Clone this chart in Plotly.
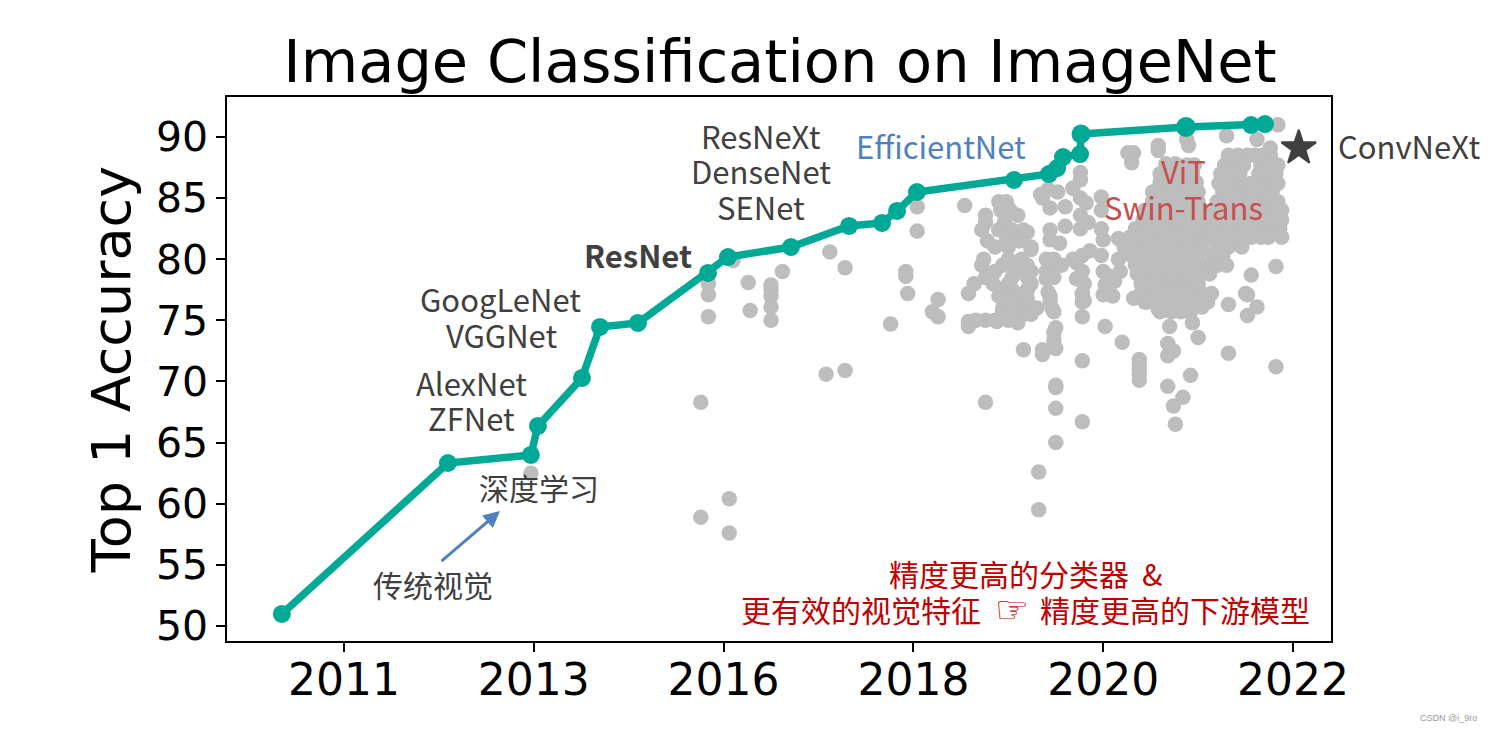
import plotly.graph_objects as go

years = ["2011", "2013", "2016", "2018", "2020", "2022"]
tick_pos = [0, 1, 2, 3, 4, 5]
acc_ticks = [50, 55, 60, 65, 70, 75, 80, 85, 90]

best_pos = [-0.327, 0.548, 0.985, 1.022, 1.254, 1.349, 1.549, 1.918, 2.023, 2.355, 2.661, 2.835, 2.914, 3.019, 3.53, 3.714, 3.757, 3.788, 3.878, 3.883, 4.436, 4.779, 4.852]
best_acc = [50.98, 63.33, 63.99, 66.36, 70.29, 74.46, 74.79, 78.88, 80.18, 81.0, 82.72, 82.97, 83.95, 85.5, 86.48, 86.97, 87.46, 88.36, 88.6, 90.25, 90.82, 90.98, 91.06]
best_size = [18, 18, 18, 18, 18, 18, 18, 18, 18, 18, 18, 18, 18, 18, 18, 18, 18, 18, 18, 19, 20, 18, 18]

sparse_pos = [3.13,3.29,3.10,3.13,3.29,3.29,3.38,3.44,3.47,3.51,3.55,3.50,3.56,3.60,3.60,3.74,3.75,3.74,3.74,3.75,3.58,3.68,3.68,3.89,3.75,3.75,3.38,3.75,3.89,3.75,3.66,3.66,4.01,4.10,4.34,4.37,4.34,4.46,4.34,4.42,4.37,4.38,4.50,4.66,4.91,4.66,4.76,4.81,4.76,4.35,4.47,3.89,3.89,3.89,4.0,4.16,4.23,4.29,4.34,4.55,4.52,
              4.19,4.19,4.19,4.19,4.19,
              0.985,1.88,1.88,2.03,2.03,1.92,1.92,1.92,2.05,2.13,2.14,2.25,2.25,2.25,2.25,2.25,2.31,2.56,2.64,2.54,2.64,2.88,2.96,2.96,2.97,3.02,3.02]
sparse_acc = [76.7,77.2,75.7,75.3,74.9,74.5,75,74.9,75.7,76.3,74.8,75.3,75.6,75.6,76.8,75.7,74.4,74,73.4,72.7,72.6,72.6,72.2,71.7,69.7,69.5,68.3,67.8,66.7,65,62.6,59.5,74.5,73.2,73.1,72.5,72.1,70.5,69.6,68.7,68,66.5,73.6,72.3,71.2,76.3,77.1,76.1,75.4,74.5,74.8,75.3,76.5,77.1,77.1,76.8,76.5,75.9,76.3,76.8,76.1,
              71.8,71.4,71,70.6,70.1,
              62.5,68.3,58.9,60.4,57.6,78,77.1,75.3,79.9,78.1,75.8,77.9,77.5,77,76.1,75,79,80.6,79.3,70.6,70.9,74.7,79,78.6,77.2,84.3,82.3]

left_pos = [3.27,3.45,3.49,3.46,3.51,3.38,3.55,3.38,3.48,3.36,3.45,3.52,3.58,3.39,3.49,3.56,3.43,3.50,3.62,3.37,3.50,3.57,3.70,3.36,3.47,3.53,3.60,3.75,3.43,3.55,3.62,3.70,3.38,3.52,3.60,3.74,3.32,3.42,3.50,3.62,3.46,3.52,3.60,3.45,3.57,3.72,3.50,3.56,3.47,3.53,3.59,3.65,3.53,3.58,3.62,3.33,3.43,3.50,3.55]
left_acc = [84.4,84.7,84.7,84,84,83.6,83.6,83,83,82.4,82.4,82.4,82.4,81.5,81.5,81.5,81,81,81,80,80,80,80,79.5,79.5,79.5,79.5,79.5,79,79,79,79,78.5,78.5,78.5,78.5,78,78,78,78,77.5,77.5,77.5,77,77,77,76.5,76.5,76,76,76,76,75.5,75.5,75.5,75,75,75,75]

mid_pos = [3.71,3.67,3.76,3.72,3.80,3.80,3.72,3.72,3.77,3.88,3.88,3.84,3.88,3.91,3.88,3.92,3.88,3.99,3.99,3.99,4.0,3.89,3.89,3.99,4.0,4.08,4.09,4.01,3.74,3.78,3.62,3.60,3.58,3.71,3.89,3.68,3.70,3.84,3.90,3.93,4.03,4.08,4.11,4.02,3.86,3.86,3.90,3.72,3.73,4.06,4.12,4.05]
mid_acc = [85.7,85.3,85.5,84.2,84.3,82.7,82.4,81.6,81.3,87.1,86.5,85.8,85,84.6,83.6,83,82.5,85.1,84,82.5,81.6,80.3,79,80.3,79,81.7,79,77.9,80,79.5,80.8,82.2,77.2,77.3,77.2,85,78.4,80,78,80.7,78.6,80,81,77.2,79.7,78.4,76.6,76.6,76,78.2,81.5,77]

core_pos = [4.92,4.65,4.81,4.29,4.29,4.44,4.45,4.13,4.16,4.15,4.88,
            4.66,4.71,4.76,4.80,4.84,4.88,
            4.64,4.69,4.74,4.83,4.88,4.92,
            4.62,4.68,4.72,4.82,4.87,4.91,
            4.61,4.66,4.72,4.78,4.84,4.88,4.92,
            4.63,4.69,4.74,4.79,4.83,4.89,
            4.60,4.66,4.71,4.77,4.82,4.87,4.92,
            4.58,4.63,4.68,4.74,4.80,4.85,4.90,4.94,
            4.55,4.62,4.67,4.72,4.78,4.84,4.89,4.94,
            4.52,4.58,4.64,4.70,4.75,4.81,4.87,4.93,
            4.50,4.56,4.62,4.68,4.73,4.78,4.83,4.87,4.94,
            4.33,4.38,4.44,4.48,
            4.30,4.36,4.42,4.47,
            4.30,4.35,4.40,4.45,4.49,
            4.26,4.31,4.37,4.42,4.47,4.50,
            4.26,4.31,4.36,4.41,4.46,4.50,
            4.22,4.28,4.33,4.38,4.43,4.48,4.52,
            4.21,4.26,4.31,4.37,4.42,4.47,4.51,
            4.17,4.23,4.29,4.34,4.39,4.44,4.48,
            4.14,4.20,4.25,4.31,4.36,4.41,4.46,
            4.17,4.22,4.27,4.32,4.37,4.42,4.47,4.52,4.60,4.66,4.73,
            4.15,4.20,4.25,4.30,4.35,4.40,4.45,4.50,4.58,4.63,
            4.17,4.22,4.27,4.32,4.37,4.42,4.47,4.53,4.60,4.65,4.91,
            4.18,4.23,4.28,4.33,4.38,4.43,4.50,4.56,4.78,
            4.20,4.25,4.30,4.35,4.40,4.45,4.50,
            4.20,4.27,4.33,4.39,4.45,4.52,4.57,4.75,
            4.22,4.30,4.36,4.42,4.48,4.55,
            4.30,4.36,4.41,4.46]
core_acc = [91,90.1,89.8,89.3,88.9,89.8,89.3,88.7,88.7,87.9,89.1,
            88.5,88.5,88.5,88.5,88.5,88.5,
            87.7,87.7,87.7,87.7,87.7,87.7,
            87,87,87,87,87,87,
            86.2,86.2,86.2,86.2,86.2,86.2,86.2,
            85.5,85.5,85.5,85.5,85.5,85.5,
            84.7,84.7,84.7,84.7,84.7,84.7,84.7,
            84,84,84,84,84,84,84,84,
            83.2,83.2,83.2,83.2,83.2,83.2,83.2,83.2,
            82.5,82.5,82.5,82.5,82.5,82.5,82.5,82.5,
            81.8,81.8,81.8,81.8,81.8,81.8,81.8,81.8,81.8,
            87.8,87.8,87.7,87.7,
            87,87,87,87,
            86.3,86.3,86.3,86.3,86.3,
            85.5,85.5,85.5,85.5,85.5,85.5,
            84.7,84.7,84.7,84.7,84.7,84.7,
            84,84,84,84,84,84,84,
            83.2,83.2,83.2,83.2,83.2,83.2,83.2,
            82.5,82.5,82.5,82.5,82.5,82.5,82.5,
            81.8,81.8,81.8,81.8,81.8,81.8,81.8,
            81,81,81,81,81,81,81,81,81,81,81,
            80.3,80.3,80.3,80.3,80.3,80.3,80.3,80.3,80.3,80.3,
            79.5,79.5,79.5,79.5,79.5,79.5,79.5,79.5,79.5,79.5,79.4,
            78.8,78.8,78.8,78.8,78.8,78.8,78.8,78.8,78.7,
            78,78,78,78,78,78,78,
            77.2,77.2,77.2,77.2,77.2,77.2,77.2,77.2,
            76.5,76.5,76.5,76.5,76.5,76.5,
            75.7,75.7,75.7,75.7]

star_pos = [5.03]
star_acc = [89.1]

PL, PT, PW, PH = 227, 97, 1104, 544
TEAL = "#00a896"
GREY = "#bdbdbd"
DARK = "#404040"
CN = "Noto Sans CJK SC, Noto Sans, sans-serif"

fig = go.Figure()
fig.add_trace(go.Scatter(x=sparse_pos + left_pos + mid_pos + core_pos,
                         y=sparse_acc + left_acc + mid_acc + core_acc,
                         mode="markers", marker=dict(color=GREY, size=15.5), showlegend=False))
fig.add_trace(go.Scatter(x=best_pos, y=best_acc, mode="lines+markers",
                         line=dict(color=TEAL, width=7.5),
                         marker=dict(color=TEAL, size=best_size, opacity=1, line=dict(width=0)),
                         showlegend=False))
fig.add_trace(go.Scatter(x=star_pos, y=star_acc, mode="markers",
                         marker=dict(color=DARK, size=26, symbol="star", line=dict(color=DARK, width=2)),
                         showlegend=False))


def label(text, px, py, size=31, color=DARK, font=CN, bold=False):
    fig.add_annotation(xref="paper", yref="paper",
                       x=(px - PL) / PW, y=1 - (py - PT) / PH,
                       text=f"<b>{text}</b>" if bold else text, showarrow=False,
                       xanchor="center", yanchor="middle", borderpad=0, borderwidth=0,
                       font=dict(size=size, color=color, family=font))


for t, px, py in [("ResNeXt", 761, 135), ("DenseNet", 761, 171), ("SENet", 761, 207),
                  ("GoogLeNet", 500, 298), ("VGGNet", 501, 334),
                  ("AlexNet", 471, 382), ("ZFNet", 471, 417), ("ConvNeXt", 1409, 145)]:
    label(t, px, py)
label("深度学习", 539, 487, size=30)
label("传统视觉", 433, 584, size=30)
label("ResNet", 638, 254, bold=True)
label("EfficientNet", 941, 145, color="#4f81bd")
label("ViT", 1183, 170, color="#c5504f")
label("Swin-Trans", 1183, 206, color="#c5504f")
label("精度更高的分类器", 1009, 573, size=30, color="#c00000")
label("&", 1152, 573, size=30, color="#c00000")
label("更有效的视觉特征", 861, 609, size=30, color="#c00000")
label("☞", 1012, 610, size=38, color="#c00000", font="DejaVu Sans", bold=True)
label("精度更高的下游模型", 1175, 609, size=30, color="#c00000")
label("CSDN @i_9ro", 1448, 718, size=9, color="#999999", font="Liberation Sans")

fig.add_annotation(x=0.822, y=59.4, ax=0.506, ay=55.2, xref="x", yref="y", axref="x", ayref="y",
                   text="", showarrow=True, arrowhead=2, arrowsize=1.1, arrowwidth=3, arrowcolor="#4f81bd")

axis_common = dict(showline=True, linecolor="black", linewidth=1.5, mirror=True, showgrid=False,
                   zeroline=False, ticks="outside", ticklen=9, tickwidth=1.5, tickcolor="black")
fig.update_layout(
    width=1496, height=733, margin=dict(l=PL, r=1496 - PL - PW, t=PT, b=733 - PT - PH),
    paper_bgcolor="white", plot_bgcolor="white",
    font=dict(family="DejaVu Sans", color="black"),
    title=dict(text="Image Classification on ImageNet", x=780 / 1496, xanchor="center",
               y=1 - 61 / 733, yanchor="middle", font=dict(size=59, family="DejaVu Sans", color="black")),
    xaxis=dict(range=[-0.616, 5.2], tickvals=tick_pos, ticktext=years, tickfont=dict(size=44),
               ticklabelstandoff=-10, **axis_common),
    yaxis=dict(range=[48.77, 93.27], tickvals=acc_ticks, tickfont=dict(size=41),
               title=dict(text="Top 1 Accuracy", font=dict(size=54), standoff=8), **axis_common),
)
fig.write_html("out.html", config=dict(displayModeBar=False), post_script="document.body.style.margin='0';")
